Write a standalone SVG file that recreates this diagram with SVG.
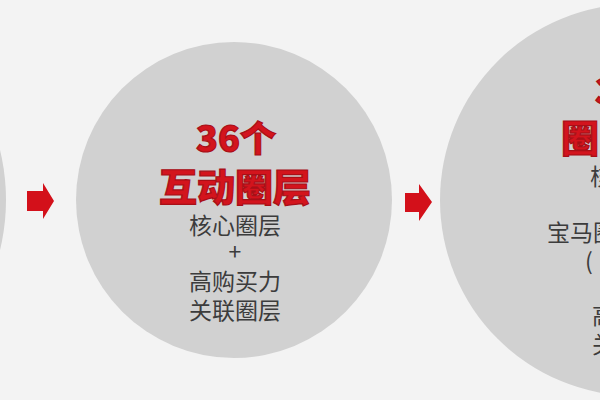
<svg xmlns="http://www.w3.org/2000/svg" width="600" height="400" viewBox="0 0 600 400">
  <style>
    .circle { fill: #d1d1d1; }
    .title { font-family: "Noto Sans CJK SC", "Liberation Sans", sans-serif; font-weight: 900; fill: #d3141d; stroke: #a80f17; stroke-width: 1.2; text-anchor: middle; }
    .body { font-family: "Noto Sans CJK SC", "Liberation Sans", sans-serif; font-size: 23px; fill: #3c3c3c; text-anchor: middle; }
    .bodyL { font-family: "Noto Sans CJK SC", "Liberation Sans", sans-serif; font-size: 23px; fill: #3c3c3c; }
    .titleL { font-family: "Noto Sans CJK SC", "Liberation Sans", sans-serif; font-weight: 900; fill: #d3141d; stroke: #a80f17; stroke-width: 1.2; }
    .arrow { fill: #d3101a; }
  </style>
  <rect width="600" height="400" fill="#f3f3f3"/>

  <g id="node-left">
    <circle class="circle" cx="-205" cy="200" r="211"/>
  </g>

  <g id="node-middle">
    <circle class="circle" cx="234" cy="200" r="158"/>
    <text class="title" x="236" y="152" font-size="36">36个</text>
    <text class="title" x="235" y="201" font-size="38">互动圈层</text>
    <text class="body" x="235" y="234">核心圈层</text>
    <text class="body" x="235" y="260" font-size="16">+</text>
    <text class="body" x="235" y="290">高购买力</text>
    <text class="body" x="235" y="319">关联圈层</text>
  </g>

  <g id="node-right">
    <circle class="circle" cx="636" cy="200" r="196"/>
    <text class="titleL" x="595" y="104" font-size="36">3</text>
    <text class="titleL" x="561" y="152" font-size="38">圈</text>
    <text class="bodyL" x="590" y="185">核</text>
    <text class="bodyL" x="547" y="241">宝马圈</text>
    <text class="bodyL" x="585" y="270">(</text>
    <text class="bodyL" x="592" y="324">高</text>
    <text class="bodyL" x="592" y="353">关</text>
  </g>

  <g id="connectors">
    <polygon class="arrow" points="27,191 43,191 43,183 54,201 43,219 43,211 27,211"/>
    <polygon class="arrow" points="405,193 419,193 419,184 432,202 419,221 419,212 405,212"/>
  </g>
</svg>
